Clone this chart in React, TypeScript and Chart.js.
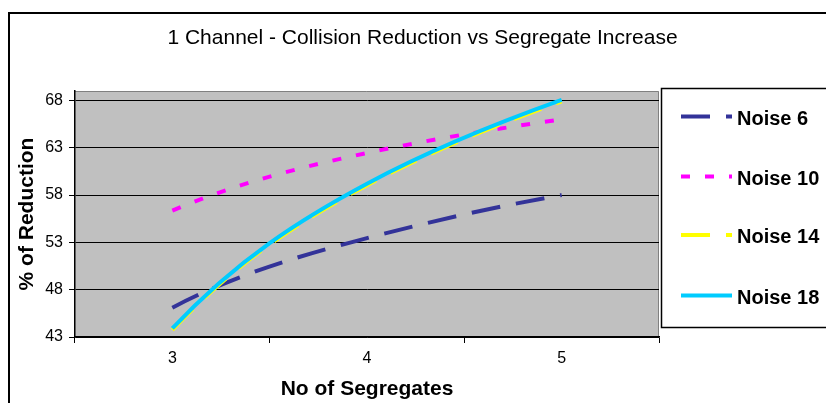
import React, { useEffect, useRef } from "react";
import { Chart, registerables } from "chart.js";

Chart.register(...registerables);

// ---- data ----
const categories = [3, 4, 5];
const seriesLabels = ["Noise 6", "Noise 10", "Noise 14", "Noise 18"];
const noise6 = [46.1, 53.45, 58.0];
const noise10 = [56.35, 62.45, 66.0];
const noise14 = [43.75, 59.05, 67.9];
const noise18 = [43.9, 59.2, 68.05];
const yTicks = [43, 48, 53, 58, 63, 68];
const chartTitle = "1 Channel - Collision Reduction vs Segregate Increase";
const xTitle = "No of Segregates";
const yTitle = "% of Reduction";

const FONT = "'Liberation Sans', Arial, Helvetica, sans-serif";

// Least-squares slope of a logarithmic trend y = a + b*ln(i), i = 1..n (Excel style)
function logTrendSlope(vals: number[]): number {
  const n = vals.length;
  const xs = vals.map((_, i) => Math.log(i + 1));
  const mx = xs.reduce((s, v) => s + v, 0) / n;
  const my = vals.reduce((s, v) => s + v, 0) / n;
  let num = 0;
  let den = 0;
  xs.forEach((x, i) => {
    num += (x - mx) * (vals[i] - my);
    den += (x - mx) * (x - mx);
  });
  return den ? num / den : 0;
}

// Shapes the smooth line segments like Excel's logarithmic trend curves
const logCurvePlugin = {
  id: "logCurve",
  beforeDatasetsDraw(chart: any) {
    const xs = chart.scales.x;
    const ys = chart.scales.y;
    chart.data.datasets.forEach((ds: any, di: number) => {
      const meta = chart.getDatasetMeta(di);
      const line = meta.dataset;
      if (!line || !line.updateControlPoints) return;
      line.updateControlPoints(chart.chartArea, "x");
      const vals = ds.data.map((p: any) => p.y);
      const b = logTrendSlope(vals);
      const pts = meta.data;
      pts.forEach((pt: any, k: number) => {
        const c = ds.data[k].x;
        const v = ds.data[k].y;
        const slope = b / (k + 1);
        const stepPix = xs.getPixelForValue(c + 1) - xs.getPixelForValue(c);
        const slopePix = (ys.getPixelForValue(v + slope) - ys.getPixelForValue(v)) / stepPix;
        if (k > 0) {
          const h = (pt.x - pts[k - 1].x) / 3;
          pt.cp1x = pt.x - h;
          pt.cp1y = pt.y - slopePix * h;
        } else {
          pt.cp1x = pt.x;
          pt.cp1y = pt.y;
        }
        if (k < pts.length - 1) {
          const h = (pts[k + 1].x - pt.x) / 3;
          pt.cp2x = pt.x + h;
          pt.cp2y = pt.y + slopePix * h;
        } else {
          pt.cp2x = pt.x;
          pt.cp2y = pt.y;
        }
      });
    });
  },
};

const decorPlugin = {
  id: "decor",
  beforeDraw(chart: any) {
    const { ctx, chartArea: a } = chart;
    ctx.save();
    ctx.fillStyle = "#C0C0C0";
    ctx.fillRect(a.left, a.top, a.right - a.left, a.bottom - a.top);
    ctx.strokeStyle = "#808080";
    ctx.lineWidth = 1;
    ctx.beginPath();
    ctx.moveTo(a.left, a.top + 0.5);
    ctx.lineTo(a.right - 0.5, a.top + 0.5);
    ctx.lineTo(a.right - 0.5, a.bottom);
    ctx.stroke();
    ctx.restore();
  },
  afterDraw(chart: any) {
    const { ctx, width, height } = chart;
    ctx.save();
    // outer chart border
    ctx.strokeStyle = "#000";
    ctx.lineWidth = 2;
    ctx.beginPath();
    ctx.moveTo(9, height + 2);
    ctx.lineTo(9, 13);
    ctx.lineTo(width + 2, 13);
    ctx.stroke();

    // title
    ctx.fillStyle = "#000";
    ctx.font = `21px ${FONT}`;
    ctx.textAlign = "center";
    ctx.textBaseline = "middle";
    ctx.fillText(chartTitle, 422.5, 38);

    // legend box
    ctx.lineWidth = 1.5;
    ctx.strokeStyle = "#000";
    ctx.strokeRect(661.5, 88.5, width, 239);

    const lineYs = [116.5, 176.5, 235, 295.5];
    chart.data.datasets.forEach((ds: any, i: number) => {
      const y = lineYs[i];
      ctx.save();
      ctx.strokeStyle = ds.borderColor;
      ctx.lineWidth = ds.borderWidth;
      ctx.setLineDash(ds.borderDash || []);
      ctx.beginPath();
      ctx.moveTo(681, y);
      ctx.lineTo(732, y);
      ctx.stroke();
      ctx.restore();
      ctx.fillStyle = "#000";
      ctx.font = `bold 20px ${FONT}`;
      ctx.textAlign = "left";
      ctx.textBaseline = "middle";
      ctx.fillText(ds.label, 737, y + 2.5);
    });
    ctx.restore();
  },
};

export default function App() {
  const ref = useRef<HTMLCanvasElement | null>(null);

  useEffect(() => {
    if (!ref.current) return;
    const mk = (vals: number[]) => categories.map((c, i) => ({ x: c, y: vals[i] }));
    const base = { pointRadius: 0, tension: 0.4, fill: false, borderWidth: 4 };
    const chart = new Chart(ref.current, {
      type: "line",
      data: {
        datasets: [
          { ...base, label: seriesLabels[0], data: mk(noise6), borderColor: "#333399", borderDash: [29, 16], order: 4 },
          { ...base, label: seriesLabels[1], data: mk(noise10), borderColor: "#FF00FF", borderDash: [9, 15], order: 3 },
          { ...base, label: seriesLabels[2], data: mk(noise14), borderColor: "#FFFF00", borderDash: [29, 16], order: 2 },
          { ...base, label: seriesLabels[3], data: mk(noise18), borderColor: "#00CCFF", order: 1 },
        ],
      },
      options: {
        responsive: false,
        animation: false,
        layout: { padding: { left: 0, right: 167, top: 91, bottom: 0 } },
        plugins: {
          legend: { display: false },
          title: { display: false },
          tooltip: { enabled: false },
        },
        scales: {
          x: {
            type: "linear",
            min: 2.5,
            max: 5.5,
            afterBuildTicks: (s: any) => {
              s.ticks = categories.map((v) => ({ value: v }));
            },
            afterFit: (s: any) => {
              s.height = 66;
            },
            grid: {
              display: true,
              drawOnChartArea: false,
              offset: true,
              tickLength: 6,
              color: "#000",
              lineWidth: 1,
            },
            border: { display: true, color: "#000", width: 1.5 },
            ticks: {
              color: "#000",
              font: { family: FONT, size: 16 },
              padding: 6,
              maxRotation: 0,
              autoSkip: false,
            },
            title: {
              display: true,
              text: xTitle,
              color: "#000",
              font: { family: FONT, size: 21, weight: "bold" },
              padding: { top: 0, bottom: 1.4 },
            },
          },
          y: {
            type: "linear",
            min: 43,
            max: 69,
            afterBuildTicks: (s: any) => {
              s.ticks = yTicks.map((v) => ({ value: v }));
            },
            afterFit: (s: any) => {
              s.width = 75;
            },
            grid: { color: "#000", lineWidth: 1, tickLength: 6 },
            border: { display: true, color: "#000", width: 1.5 },
            ticks: {
              color: "#000",
              font: { family: FONT, size: 16 },
              padding: 6,
            },
            title: {
              display: true,
              text: yTitle,
              color: "#000",
              font: { family: FONT, size: 21, weight: "bold" },
              padding: { top: 14.4, bottom: 0 },
            },
          },
        },
      },
      plugins: [decorPlugin, logCurvePlugin],
    } as any);
    return () => chart.destroy();
  }, []);

  return (
    <div style={{ position: "fixed", left: 0, top: 0, width: 826, height: 403, background: "#fff" }}>
      <canvas ref={ref} width={826} height={403} style={{ width: 826, height: 403, display: "block" }} />
    </div>
  );
}
